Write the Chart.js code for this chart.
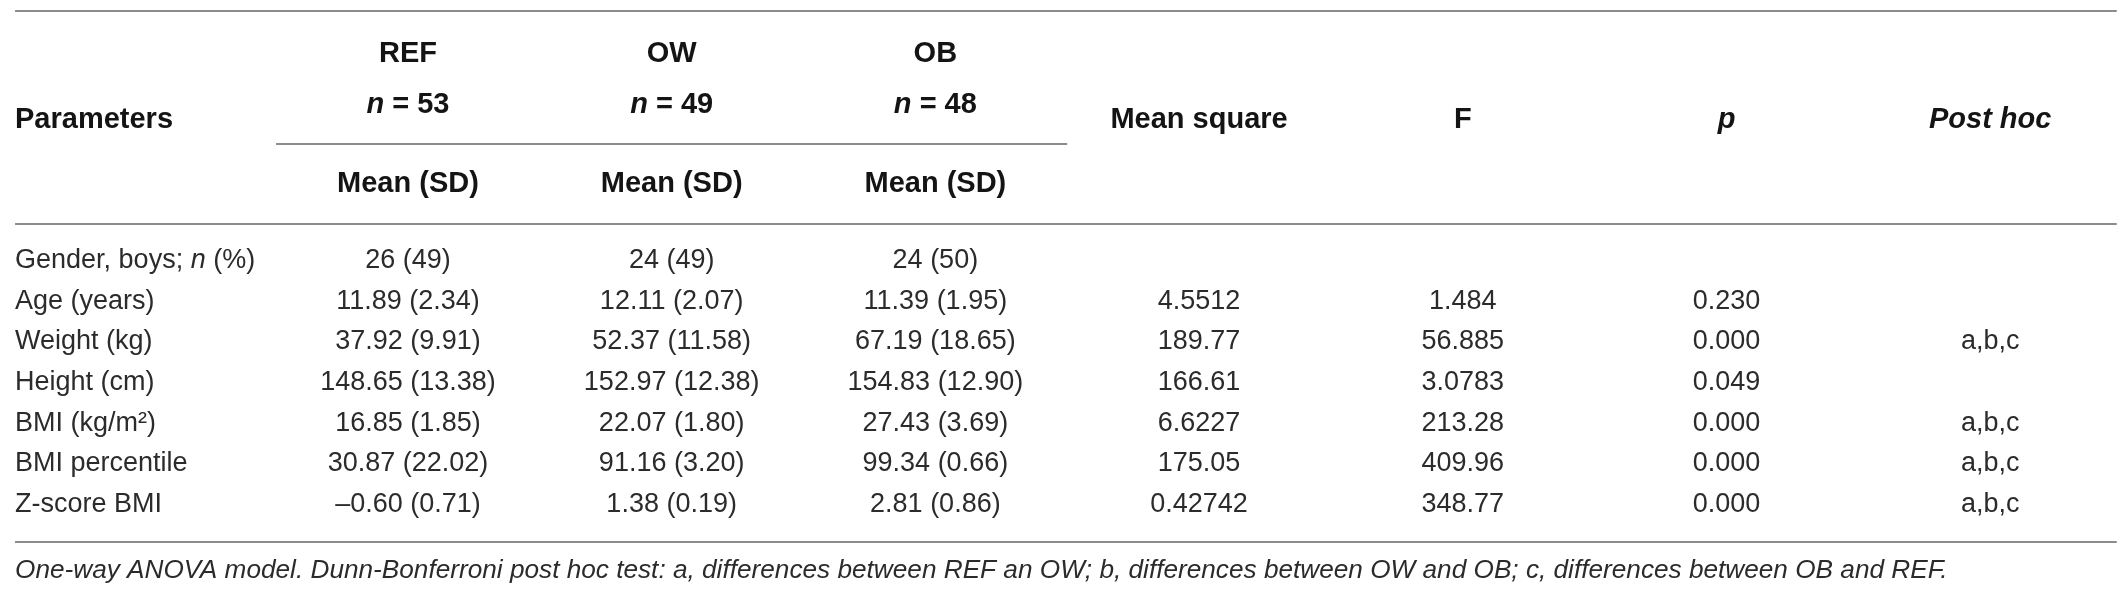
<!DOCTYPE html>
<html>
<head>
<meta charset="utf-8">
<script src="https://cdn.jsdelivr.net/npm/chart.js@4.4.1/dist/chart.umd.min.js"></script>
<style>
  html, body { margin: 0; padding: 0; background: #fff; }
  #wrap { width: 2126px; height: 600px; }
</style>
</head>
<body>
<div id="wrap"><canvas id="table" width="2126" height="600"></canvas></div>
<script>
// table contents (text between _ _ is set in italics)
const parameters = ['Gender, boys; _n_ (%)', 'Age (years)', 'Weight (kg)', 'Height (cm)', 'BMI (kg/m²)', 'BMI percentile', 'Z-score BMI'];
const groups = ['REF', 'OW', 'OB'];
const groupN = [53, 49, 48];
const refMean = [26, 11.89, 37.92, 148.65, 16.85, 30.87, -0.60];
const refSD = [49, 2.34, 9.91, 13.38, 1.85, 22.02, 0.71];
const owMean = [24, 12.11, 52.37, 152.97, 22.07, 91.16, 1.38];
const owSD = [49, 2.07, 11.58, 12.38, 1.80, 3.20, 0.19];
const obMean = [24, 11.39, 67.19, 154.83, 27.43, 99.34, 2.81];
const obSD = [50, 1.95, 18.65, 12.90, 3.69, 0.66, 0.86];
const meanSquare = [null, 4.5512, 189.77, 166.61, 6.6227, 175.05, 0.42742];
const fValues = [null, 1.484, 56.885, 3.0783, 213.28, 409.96, 348.77];
const pValues = [null, 0.230, 0.000, 0.049, 0.000, 0.000, 0.000];
const postHoc = ['', '', 'a,b,c', '', 'a,b,c', 'a,b,c', 'a,b,c'];
const statHeaders = ['Mean square', 'F', '_p_', '_Post hoc_'];
const footnote = '_One-way ANOVA model. Dunn-Bonferroni post hoc test: a, differences between REF an OW; b, differences between OW and OB; c, differences between OB and REF._';

// layout, in scale units (x = column, y = body row)
const X_MIN = -0.547, X_MAX = 7.515;
const Y_MIN = -6.59, Y_MAX = 8.163;
const PARAM_X = -0.49;
const HEAD_GROUP_Y = -5.07, HEAD_N_Y = -3.81, HEAD_MAIN_Y = -3.44, HEAD_SD_Y = -1.87;
const FOOT_Y = 7.62;
const rules = [
  { y: -6.32, from: -0.49, to: 7.48 },
  { y: -3.05, from: 0.5, to: 3.5 },
  { y: -1.08, from: -0.49, to: 7.48 },
  { y: 6.74, from: -0.49, to: 7.48 }
];
const FONT = '"Liberation Sans", Arial, sans-serif';
const BODY_SIZE = 27, HEAD_SIZE = 29, FOOT_SIZE = 26.2;
const BODY_COLOR = '#2b2b2b', HEAD_COLOR = '#141414', RULE_COLOR = '#8c8c8c';

function meanSD(m, s, row) {
  const d = row === 0 ? 0 : 2;
  return (m < 0 ? '\u2013' : '') + Math.abs(m).toFixed(d) + ' (' + s.toFixed(d) + ')';
}

const columnTexts = [
  parameters,
  refMean.map((m, r) => meanSD(m, refSD[r], r)),
  owMean.map((m, r) => meanSD(m, owSD[r], r)),
  obMean.map((m, r) => meanSD(m, obSD[r], r)),
  meanSquare.map(v => v === null ? '' : String(v)),
  fValues.map(v => v === null ? '' : String(v)),
  pValues.map(v => v === null ? '' : v.toFixed(3)),
  postHoc
];

function drawRich(ctx, text, px, py, align, weight, size, color) {
  const parts = text.split('_');
  const fonts = parts.map((p, i) => (i % 2 ? 'italic ' : '') + weight + ' ' + size + 'px ' + FONT);
  let total = 0;
  parts.forEach((p, i) => { ctx.font = fonts[i]; total += ctx.measureText(p).width; });
  let cx = align === 'left' ? px : align === 'center' ? px - total / 2 : px - total;
  ctx.fillStyle = color;
  ctx.textAlign = 'left';
  ctx.textBaseline = 'alphabetic';
  parts.forEach((p, i) => {
    ctx.font = fonts[i];
    ctx.fillText(p, cx, py);
    cx += ctx.measureText(p).width;
  });
}

const tablePlugin = {
  id: 'tableText',
  afterDatasetsDraw(chart) {
    const ctx = chart.ctx;
    const x = chart.scales.x, y = chart.scales.y;
    ctx.save();

    ctx.strokeStyle = RULE_COLOR;
    ctx.lineWidth = 2;
    rules.forEach(r => {
      const py = Math.round(y.getPixelForValue(r.y));
      ctx.beginPath();
      ctx.moveTo(x.getPixelForValue(r.from), py);
      ctx.lineTo(x.getPixelForValue(r.to), py);
      ctx.stroke();
    });

    // body cells sit on the dataset points
    chart.data.datasets.forEach((ds, c) => {
      chart.getDatasetMeta(c).data.forEach((pt, r) => {
        const t = columnTexts[c][r];
        if (t) drawRich(ctx, t, pt.x, pt.y, c === 0 ? 'left' : 'center', 'normal', BODY_SIZE, BODY_COLOR);
      });
    });

    // header
    drawRich(ctx, 'Parameters', x.getPixelForValue(PARAM_X), y.getPixelForValue(HEAD_MAIN_Y), 'left', 'bold', HEAD_SIZE, HEAD_COLOR);
    groups.forEach((g, i) => {
      const px = x.getPixelForValue(i + 1);
      drawRich(ctx, g, px, y.getPixelForValue(HEAD_GROUP_Y), 'center', 'bold', HEAD_SIZE, HEAD_COLOR);
      drawRich(ctx, '_n_ = ' + groupN[i], px, y.getPixelForValue(HEAD_N_Y), 'center', 'bold', HEAD_SIZE, HEAD_COLOR);
      drawRich(ctx, 'Mean (SD)', px, y.getPixelForValue(HEAD_SD_Y), 'center', 'bold', HEAD_SIZE, HEAD_COLOR);
    });
    statHeaders.forEach((h, i) => {
      drawRich(ctx, h, x.getPixelForValue(i + 4), y.getPixelForValue(HEAD_MAIN_Y), 'center', 'bold', HEAD_SIZE, HEAD_COLOR);
    });

    drawRich(ctx, footnote, x.getPixelForValue(PARAM_X), y.getPixelForValue(FOOT_Y), 'left', 'normal', FOOT_SIZE, BODY_COLOR);
    ctx.restore();
  }
};

new Chart(document.getElementById('table'), {
  type: 'scatter',
  data: {
    datasets: columnTexts.map((col, c) => ({
      label: c === 0 ? 'Parameters' : 'col' + c,
      data: col.map((_, r) => ({ x: c === 0 ? PARAM_X : c, y: r })),
      pointRadius: 0,
      pointHoverRadius: 0
    }))
  },
  options: {
    responsive: false,
    devicePixelRatio: 1,
    animation: false,
    layout: { padding: 0 },
    events: [],
    plugins: { legend: { display: false }, tooltip: { enabled: false } },
    scales: {
      x: { type: 'linear', min: X_MIN, max: X_MAX, display: false },
      y: { type: 'linear', min: Y_MIN, max: Y_MAX, reverse: true, display: false }
    }
  },
  plugins: [tablePlugin]
});
</script>
</body>
</html>
